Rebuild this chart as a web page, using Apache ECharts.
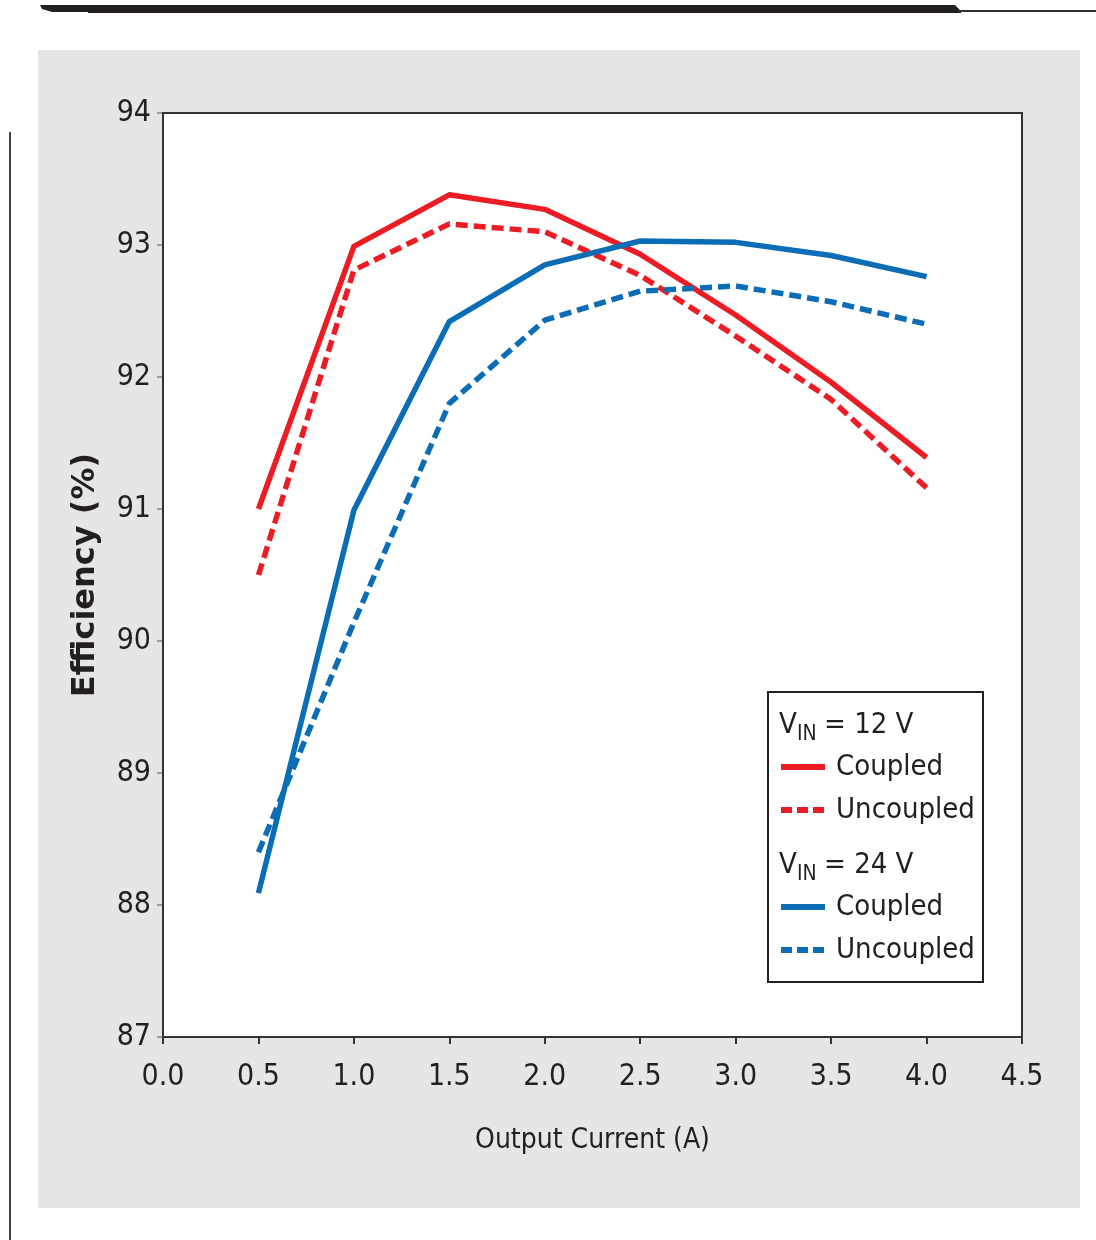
<!DOCTYPE html>
<html>
<head>
<meta charset="utf-8">
<script src="https://cdn.jsdelivr.net/npm/echarts/dist/echarts.min.js"></script>
<style>
html,body{margin:0;padding:0;background:#fff;}
#chart{width:1096px;height:1240px;}
</style>
</head>
<body>
<div id="chart"></div>
<script>
// ---- data ----
const currents = [0.5, 1.0, 1.5, 2.0, 2.5, 3.0, 3.5, 4.0];
const vin12Coupled   = [91.00, 92.99, 93.38, 93.27, 92.93, 92.47, 91.96, 91.39];
const vin12Uncoupled = [90.50, 92.81, 93.16, 93.10, 92.77, 92.31, 91.83, 91.16];
const vin24Coupled   = [88.09, 90.99, 92.42, 92.85, 93.03, 93.02, 92.92, 92.76];
const vin24Uncoupled = [88.40, 90.14, 91.80, 92.43, 92.65, 92.69, 92.57, 92.40];
const xTicks = [0.0, 0.5, 1.0, 1.5, 2.0, 2.5, 3.0, 3.5, 4.0, 4.5];
const yTicks = [87, 88, 89, 90, 91, 92, 93, 94];
const xTitle = 'Output Current (A)';
const yTitle = 'Efficiency (%)';

const RED = '#ec1c24';
const BLUE = '#0b6db6';
const NARROW = '"Liberation Sans Narrow", "DejaVu Sans Condensed", sans-serif';
const TXT = '#231f20';

function pairs(ys){ return currents.map((x,i)=>[x, ys[i]]); }

function mkSeries(name, ys, color, dashed){
  return {
    name: name, type: 'line', data: pairs(ys),
    symbol: 'none', showSymbol: false, smooth: false,
    lineStyle: { color: color, width: 5.5, type: dashed ? [12, 6] : 'solid', cap: 'butt', join: 'round' },
    itemStyle: { color: color },
    emphasis: { disabled: true },
    z: 3
  };
}

const chart = echarts.init(document.getElementById('chart'), null, {renderer: 'canvas'});

const legendText = {
  fontFamily: NARROW, fontSize: 29, color: TXT, lineHeight: 40, padding: [0,0,0,6]
};

function legendItems(prefix){
  return [
    { name: prefix + ' Coupled', lineStyle: { width: 6, type: 'solid' } },
    { name: prefix + ' Uncoupled', lineStyle: { width: 6, type: [11, 5] } }
  ];
}

function legendBlock(prefix, top){
  return {
    data: legendItems(prefix), z: 30,
    orient: 'vertical', left: 778, top: top, itemWidth: 44, itemHeight: 14, itemGap: 3,
    padding: 0, selectedMode: false,
    itemStyle: { opacity: 0 },
    lineStyle: { width: 6 },
    formatter: function(n){ return n.replace(/^\d+ V /, ''); },
    textStyle: legendText
  };
}

function headingText(x, y, txt, size){
  return { type: 'text', z: 30, silent: true,
    style: { x: x, y: y, text: txt, font: size + 'px ' + NARROW, fill: TXT, verticalAlign: 'middle', align: 'left' } };
}

const option = {
  animation: false,
  backgroundColor: '#ffffff',
  grid: {
    left: 163, top: 113, right: 74, bottom: 203,
    show: true, backgroundColor: '#ffffff', borderColor: '#333333', borderWidth: 2, z: 1
  },
  xAxis: {
    type: 'value', min: 0, max: 4.5, interval: 0.5,
    name: xTitle, nameLocation: 'middle', nameGap: 90,
    nameTextStyle: { fontFamily: NARROW, fontSize: 28, color: TXT },
    axisLine: { show: false },
    axisTick: { show: true, inside: false, length: 7,
      interval: function(i, v){ return i === 0 || i === xTicks.length - 1; },
      lineStyle: { color: '#333', width: 2 } },
    axisLabel: { margin: 25, fontFamily: NARROW, fontSize: 30, color: TXT,
      formatter: function(v){ return Number(v).toFixed(1); } },
    splitLine: { show: true, lineStyle: { color: '#9d9d9d', width: 2 } }
  },
  yAxis: {
    type: 'value', min: 87, max: 94, interval: 1,
    name: yTitle, nameLocation: 'middle', nameGap: 61, nameRotate: 90,
    nameTextStyle: { fontFamily: '"DejaVu Sans", sans-serif', fontWeight: 'bold', fontSize: 32, color: TXT },
    axisLine: { show: false },
    axisTick: { show: true, inside: false, length: 6, lineStyle: { color: '#9d9d9d', width: 2 } },
    axisLabel: { margin: 12, fontFamily: NARROW, fontSize: 30, color: TXT },
    splitLine: { show: true, lineStyle: { color: '#9d9d9d', width: 2 } }
  },
  legend: [ legendBlock('12 V', 747), legendBlock('24 V', 887) ],
  graphic: [
    // gray panel
    { type: 'rect', z: -10, silent: true, shape: { x: 38, y: 50, width: 1042, height: 1158 },
      style: { fill: '#e6e6e6' } },
    // top black bar
    { type: 'polygon', z: -5, silent: true,
      shape: { points: [[40,5],[955,5],[961,11],[961,13],[88,13],[88,12],[52,12],[42,9]] },
      style: { fill: '#231f20' } },
    { type: 'rect', z: -5, silent: true, shape: { x: 958, y: 10, width: 138, height: 2 },
      style: { fill: '#333' } },
    // left vertical rule
    { type: 'rect', z: -5, silent: true, shape: { x: 9, y: 132, width: 2, height: 1108 },
      style: { fill: '#444' } },
    // legend box
    { type: 'rect', z: 10, silent: true, shape: { x: 768, y: 692, width: 215, height: 290 },
      style: { fill: '#ffffff', stroke: '#231f20', lineWidth: 2 } },
    // headings
    headingText(779, 725, 'V', 29),
    headingText(797, 735, 'IN', 21),
    headingText(824, 725, '= 12 V', 29),
    headingText(779, 865, 'V', 29),
    headingText(797, 875, 'IN', 21),
    headingText(824, 865, '= 24 V', 29)
  ],
  series: [
    mkSeries('12 V Coupled', vin12Coupled, RED, false),
    mkSeries('12 V Uncoupled', vin12Uncoupled, RED, true),
    mkSeries('24 V Coupled', vin24Coupled, BLUE, false),
    mkSeries('24 V Uncoupled', vin24Uncoupled, BLUE, true)
  ]
};
chart.setOption(option);
</script>
</body>
</html>
